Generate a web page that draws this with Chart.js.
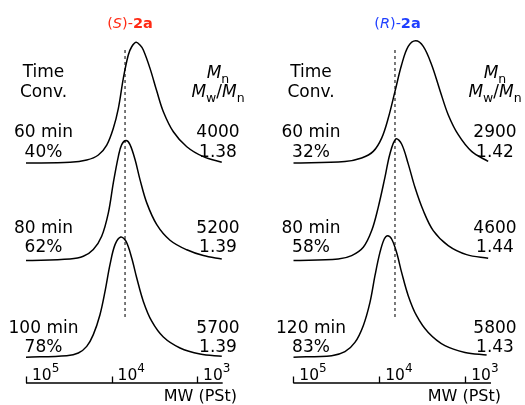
<!DOCTYPE html>
<html>
<head>
<meta charset="utf-8">
<script src="https://cdn.jsdelivr.net/npm/chart.js@4.4.1/dist/chart.umd.min.js"></script>
<style>
    html, body { margin: 0; padding: 0; background: #fff; }
    #wrap { position: relative; width: 525px; height: 405px; }
    #wrap canvas { position: absolute; top: 0; }
</style>
</head>
<body>
<div id="wrap">
    <canvas id="leftChart" width="262" height="405" style="left:0"></canvas>
    <canvas id="rightChart" width="263" height="405" style="left:262px"></canvas>
</div>
<script>
// GPC traces: x = log10(MW), y = normalised RI intensity
var sLog60 = [5.000, 4.485, 4.290, 4.154, 4.056, 3.979, 3.920, 3.862, 3.804, 3.764, 3.713, 3.667, 3.628, 3.550, 3.471, 3.394, 3.277, 3.120, 2.926, 2.711];
var sInt60 = [0, 0.006, 0.025, 0.067, 0.150, 0.290, 0.456, 0.706, 0.900, 0.969, 1.006, 0.983, 0.942, 0.789, 0.600, 0.428, 0.261, 0.136, 0.053, 0.006];
var sLog80 = [5.000, 4.485, 4.330, 4.213, 4.115, 4.037, 3.979, 3.920, 3.881, 3.830, 3.784, 3.725, 3.667, 3.588, 3.471, 3.316, 3.120, 2.926, 2.711];
var sInt80 = [0, 0.014, 0.036, 0.092, 0.203, 0.398, 0.648, 0.869, 0.967, 1.000, 0.967, 0.842, 0.675, 0.481, 0.300, 0.170, 0.090, 0.042, 0.013];
var sLog100 = [5.000, 4.524, 4.388, 4.290, 4.213, 4.135, 4.076, 4.018, 3.959, 3.892, 3.830, 3.764, 3.705, 3.628, 3.530, 3.394, 3.199, 2.965, 2.711];
var sInt100 = [0, 0.013, 0.035, 0.090, 0.188, 0.354, 0.548, 0.771, 0.938, 1.002, 0.965, 0.827, 0.660, 0.465, 0.300, 0.168, 0.077, 0.027, 0.007];

var rLog60 = [5.000, 4.399, 4.205, 4.070, 3.972, 3.895, 3.817, 3.740, 3.663, 3.577, 3.488, 3.391, 3.290, 3.198, 3.081, 2.926, 2.733];
var rInt60 = [0, 0.013, 0.042, 0.097, 0.208, 0.375, 0.597, 0.819, 0.972, 1.019, 0.972, 0.819, 0.597, 0.403, 0.236, 0.097, 0.013];
var rLog80 = [5.000, 4.477, 4.321, 4.186, 4.088, 4.012, 3.934, 3.876, 3.806, 3.740, 3.663, 3.585, 3.488, 3.372, 3.198, 2.984, 2.733];
var rInt80 = [0, 0.014, 0.042, 0.111, 0.250, 0.444, 0.693, 0.889, 1.014, 0.972, 0.806, 0.611, 0.417, 0.250, 0.125, 0.050, 0.019];
var rLog120 = [5.000, 4.553, 4.399, 4.283, 4.186, 4.108, 4.050, 3.992, 3.942, 3.902, 3.856, 3.798, 3.740, 3.663, 3.566, 3.430, 3.236, 3.003, 2.751];
var rInt120 = [0, 0.013, 0.046, 0.123, 0.263, 0.457, 0.679, 0.873, 0.985, 1.013, 0.985, 0.873, 0.707, 0.513, 0.346, 0.206, 0.096, 0.040, 0.018];

// dashed reference line (log10 MW)
var sRefLog = 3.842;
var rRefLog = 3.817;

// table values
var sTimes = ['60 min', '80 min', '100 min'];
var sConv = ['40%', '62%', '78%'];
var sMn = ['4000', '5200', '5700'];
var sPdi = ['1.38', '1.39', '1.39'];
var rTimes = ['60 min', '80 min', '120 min'];
var rConv = ['32%', '58%', '83%'];
var rMn = ['2900', '4600', '5800'];
var rPdi = ['1.42', '1.44', '1.43'];

// axis ticks: log10 MW
var tickExps = [5, 4, 3];

// layout
var FONT = '"DejaVu Sans", sans-serif';
var TRACE_BASE = [1.833, 1.02, 0.215];   // vertical stacking of the three traces
var Y_MAX = 383 / 120;
var ROW_BASE = [137.3, 232.7, 332.7];

function traceData(logs, ints, base) {
    return logs.map(function (v, i) { return { x: v, y: ints[i] + base }; });
}

function drawRich(ctx, segs, x, y, align) {
    var w = 0;
    segs.forEach(function (s) {
        ctx.font = s.font;
        s.w = ctx.measureText(s.t).width;
        w += s.w;
    });
    var cx = align === 'center' ? x - w / 2 : (align === 'right' ? x - w : x);
    ctx.textAlign = 'left';
    ctx.textBaseline = 'alphabetic';
    segs.forEach(function (s) {
        ctx.font = s.font;
        ctx.fillStyle = s.color || '#000';
        ctx.fillText(s.t, cx, y + (s.dy || 0));
        cx += s.w;
    });
}

function f(size, style) {
    return (style || '') + ' ' + size + 'px ' + FONT;
}

function makePanel(canvasId, cfg) {
    var ctx = document.getElementById(canvasId).getContext('2d');

    var decorations = {
        id: 'decorations',
        afterDraw: function (chart) {
            var c = chart.ctx;
            var area = chart.chartArea;
            var xs = chart.scales.x;
            c.save();

            // axis line and inward ticks
            c.strokeStyle = '#000';
            c.lineWidth = 1.3;
            c.beginPath();
            c.moveTo(area.left, area.bottom);
            c.lineTo(area.right, area.bottom);
            tickExps.forEach(function (e) {
                var px = Math.round(xs.getPixelForValue(e)) + 0.5;
                c.moveTo(px, area.bottom);
                c.lineTo(px, area.bottom - 6.5);
            });
            c.stroke();

            tickExps.forEach(function (e) {
                var px = xs.getPixelForValue(e);
                drawRich(c, [
                    { t: '10', font: f(15.5) },
                    { t: String(e), font: f(12), dy: -8 }
                ], px + 6, area.bottom - 3.5, 'left');
            });

            drawRich(c, [{ t: 'MW (PSt)', font: f(16) }], cfg.mwRight, 401, 'right');

            // title
            drawRich(c, [
                { t: '(', font: f(14.5), color: cfg.color },
                { t: cfg.letter, font: f(14.5, 'italic'), color: cfg.color },
                { t: ')-', font: f(14.5), color: cfg.color },
                { t: '2a', font: f(14.5, 'bold'), color: cfg.color }
            ], cfg.titleX, 28, 'center');

            // column headers
            drawRich(c, [{ t: 'Time', font: f(17) }], cfg.col1, 77.3, 'center');
            drawRich(c, [{ t: 'Conv.', font: f(17) }], cfg.col1, 96.7, 'center');
            drawRich(c, [
                { t: 'M', font: f(17, 'italic') },
                { t: 'n', font: f(12.5), dy: 5 }
            ], cfg.col2, 77.5, 'center');
            drawRich(c, [
                { t: 'M', font: f(17, 'italic') },
                { t: 'w', font: f(12.5), dy: 5 },
                { t: '/', font: f(17) },
                { t: 'M', font: f(17, 'italic') },
                { t: 'n', font: f(12.5), dy: 5 }
            ], cfg.col2, 96.7, 'center');

            // rows
            for (var i = 0; i < 3; i++) {
                drawRich(c, [{ t: cfg.times[i], font: f(17) }], cfg.col1, ROW_BASE[i], 'center');
                drawRich(c, [{ t: cfg.conv[i], font: f(17) }], cfg.col1, ROW_BASE[i] + 19.2, 'center');
                drawRich(c, [{ t: cfg.mn[i], font: f(17) }], cfg.col2, ROW_BASE[i], 'center');
                drawRich(c, [{ t: cfg.pdi[i], font: f(17) }], cfg.col2, ROW_BASE[i] + 19.2, 'center');
            }
            c.restore();
        }
    };

    var datasets = cfg.traces.map(function (tr, i) {
        return {
            data: traceData(tr[0], tr[1], TRACE_BASE[i]),
            borderColor: '#000',
            borderWidth: 1.5,
            pointRadius: 0,
            tension: 0.35,
            fill: false
        };
    });
    datasets.push({
        data: [{ x: cfg.ref, y: 0.55 }, { x: cfg.ref, y: 2.775 }],
        borderColor: '#222',
        borderWidth: 1.2,
        borderDash: [3, 3],
        pointRadius: 0
    });

    return new Chart(ctx, {
        type: 'line',
        data: { datasets: datasets },
        options: {
            responsive: false,
            animation: false,
            devicePixelRatio: 1,
            layout: { padding: cfg.padding },
            plugins: { legend: { display: false }, tooltip: { enabled: false } },
            scales: {
                x: { type: 'linear', min: 2.7, max: 5, reverse: true, display: false },
                y: { type: 'linear', min: 0, max: Y_MAX, display: false }
            }
        },
        plugins: [decorations]
    });
}

makePanel('leftChart', {
    traces: [[sLog60, sInt60], [sLog80, sInt80], [sLog100, sInt100]],
    ref: sRefLog,
    padding: { left: 26, right: 39.3, top: 0, bottom: 22 },
    color: '#ff2a14', letter: 'S', titleX: 130,
    col1: 43.5, col2: 218, mwRight: 237,
    times: sTimes, conv: sConv, mn: sMn, pdi: sPdi
});

makePanel('rightChart', {
    traces: [[rLog60, rInt60], [rLog80, rInt80], [rLog120, rInt120]],
    ref: rRefLog,
    padding: { left: 31.3, right: 34, top: 0, bottom: 22 },
    color: '#1f3fff', letter: 'R', titleX: 135.5,
    col1: 49, col2: 233, mwRight: 239,
    times: rTimes, conv: rConv, mn: rMn, pdi: rPdi
});
</script>
</body>
</html>
